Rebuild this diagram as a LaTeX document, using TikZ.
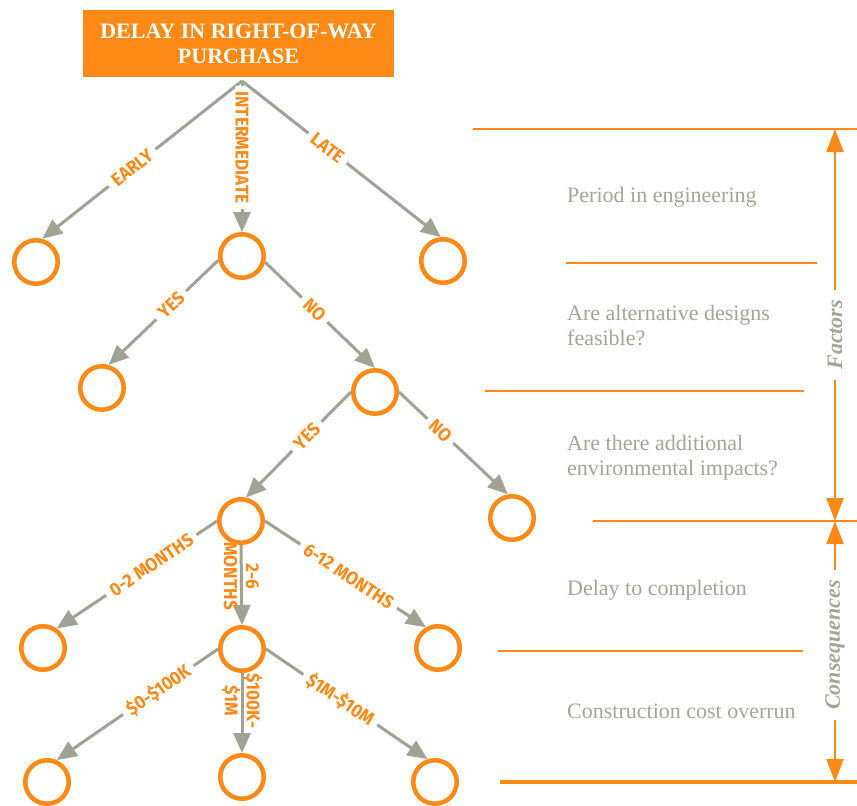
\documentclass[tikz,border=0pt]{standalone}
\usepackage{fontspec}
\setmainfont{Liberation Serif}
\newfontfamily\lblfont[FakeStretch=0.93]{Fira Sans}
\usetikzlibrary{arrows.meta}
\definecolor{orng}{RGB}{253,137,22}
\definecolor{grayl}{RGB}{160,162,148}
\definecolor{grayt}{RGB}{165,165,150}
\begin{document}
\begin{tikzpicture}[x=1pt,y=-1pt,
  circ/.style={circle, draw=orng, line width=4.5pt, minimum size=43.5pt, inner sep=0pt},
  conn/.style={draw=grayl, line width=3pt, -{Triangle[length=20pt,width=17pt]}},
  lblfnt/.style={text=orng, font=\lblfont\bfseries\fontsize{18.5}{20.5}\selectfont},
  lbl/.style={lblfnt, fill=white, inner xsep=6pt, inner ysep=1pt, sloped},
  vlbl/.style={lblfnt, fill=white, inner xsep=6pt, inner ysep=1pt, rotate=-90},
  vlbltwo/.style={text=orng, font=\lblfont\bfseries\fontsize{18.5}{22}\selectfont, align=center, inner sep=0pt, rotate=-90},
  oline/.style={draw=orng, line width=2.5pt},
  oarr/.style={draw=orng, line width=2.5pt, {Triangle[length=23pt,width=17pt]}-{Triangle[length=23pt,width=17pt]}},
  olbl/.style={fill=white, text=grayt, font=\bfseries\itshape\fontsize{22}{24}\selectfont, inner xsep=10pt, inner ysep=2pt, rotate=90},
  rtext/.style={text=grayt, font=\fontsize{22}{25}\selectfont, inner sep=0pt, align=left, anchor=base west}
]
\useasboundingbox (0,0) rectangle (857,806);

% title
\node[fill=orng, minimum width=311pt, minimum height=67pt, inner sep=0pt, text=white,
      font=\bfseries\fontsize{22}{25}\selectfont, align=center] (title) at (238.5,43.5)
      {DELAY IN RIGHT-OF-WAY\\PURCHASE};
\coordinate (apex) at (242,81);

% circles
\node[circ] (n1a) at (36,262) {};
\node[circ] (n1b) at (242,256) {};
\node[circ] (n1c) at (443,261) {};
\node[circ] (n2a) at (102,388) {};
\node[circ] (n2b) at (375,392) {};
\node[circ] (n3a) at (241,521) {};
\node[circ] (n3b) at (512,518) {};
\node[circ] (n4a) at (43,648) {};
\node[circ] (n4b) at (242,649) {};
\node[circ] (n4c) at (438,648) {};
\node[circ] (n5a) at (47,782) {};
\node[circ] (n5b) at (242,777) {};
\node[circ] (n5c) at (435,782) {};

% connectors
\draw[conn] (apex) -- node[lbl,pos=0.55] (l1) {EARLY} (n1a.75);
\draw[conn] (apex) -- node[vlbl,pos=0.44] (l2) {INTERMEDIATE} (n1b.north);
\draw[conn] (apex) -- node[lbl,pos=0.43] (l3) {LATE} (n1c.95);
\draw[conn] (n1b.190) -- node[lbl,pos=0.43] (l4) {YES} (n2a.74);
\draw[conn] (n1b.-15) -- node[lbl,pos=0.45] (l5) {NO} (n2b.north);
\draw[conn] (n2b.west) -- node[lbl,pos=0.42] (l6) {YES} (n3a.78);
\draw[conn] (n2b.east) -- node[lbl,pos=0.38] (l7) {NO} (n3b.100);
\draw[conn] (n3a.west) -- node[lbl,pos=0.41] (l8) {0-2 MONTHS} (n4a.55);
\draw[conn] (n3a.south) -- node[vlbltwo,pos=0.39] (l9) {2-6\\MONTHS} (n4b.north);
\draw[conn] (n3a.east) -- node[lbl,pos=0.52] (l10) {6-12 MONTHS} (n4c.120);
\draw[conn] (n4b.west) -- node[lbl,pos=0.37] (l11) {\$0-\$100K} (n5a.66);
\draw[conn] (n4b.south) -- node[vlbltwo,pos=0.35] (l12) {\$100K-\\\$1M} (n5b.north);
\draw[conn] (n4b.east) -- node[lbl,pos=0.46] (l13) {\$1M-\$10M} (n5c.108);

% right side rules
\draw[oline] (473,129) -- (857,129);
\draw[oline] (566,263) -- (817,263);
\draw[oline] (485,391) -- (804,391);
\draw[oline] (593,521) -- (857,521);
\draw[oline] (498,651) -- (803,651);
\draw[oline, line width=4pt] (500,782) -- (857,782);

% right side texts
\node[rtext] (t1) at (567,202) {Period in engineering};
\node[rtext] (t2) at (567,345) {Are alternative designs\\feasible?};
\node[rtext] (t3) at (567,475) {Are there additional\\environmental impacts?};
\node[rtext] (t4) at (567,595) {Delay to completion};
\node[rtext] (t5) at (567,718) {Construction cost overrun};

% dimension arrows
\coordinate (f1) at (835,129);
\coordinate (f2) at (835,521);
\coordinate (c2) at (835,782);
\draw[oarr] (f1) -- node[olbl,pos=0.525] (fl) {Factors} (f2);
\draw[oarr] (f2) -- node[olbl,pos=0.475] (cl) {Consequences} (c2);
\end{tikzpicture}
\end{document}
